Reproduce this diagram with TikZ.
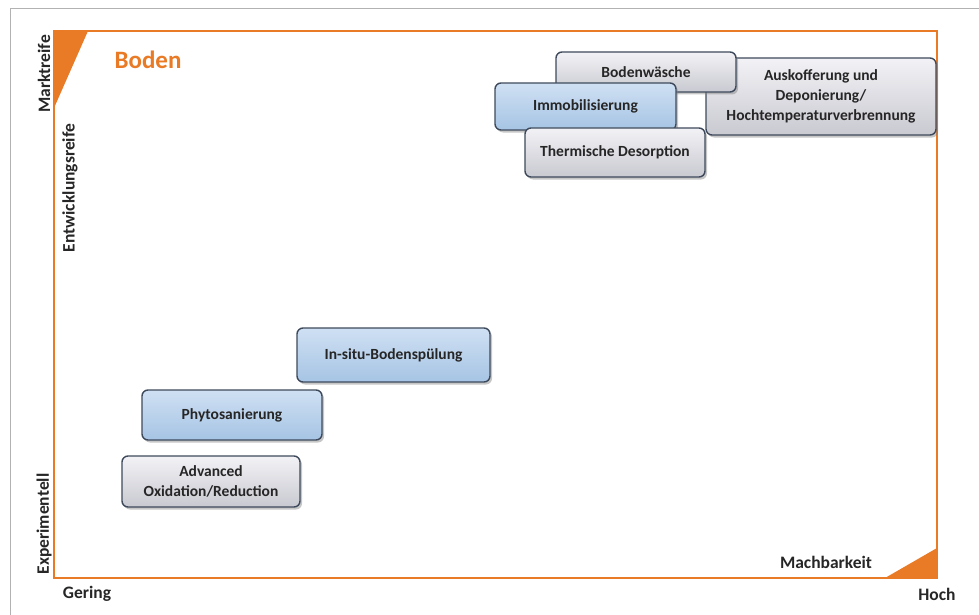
\documentclass[tikz,border=0pt]{standalone}
\usepackage{fontspec}
\setmainfont{Carlito}
\usetikzlibrary{shadows}

\definecolor{frameorange}{HTML}{E97A26}
\definecolor{boxedge}{HTML}{3E4A5C}
\definecolor{textdark}{HTML}{262626}
\definecolor{graytop}{HTML}{F2F2F6}
\definecolor{graybottom}{HTML}{C9C9D1}
\definecolor{bluetop}{HTML}{CFE0F3}
\definecolor{bluebottom}{HTML}{A6C4E4}

\tikzset{
    method/.style={draw=boxedge, line width=1.4pt, rounded corners=6pt,
        align=center, text=textdark, inner sep=2pt,
        font=\bfseries\fontsize{15.5}{20}\selectfont,
        drop shadow={shadow xshift=2pt, shadow yshift=-2.5pt, opacity=0.45}},
    graymethod/.style={method, top color=graytop, bottom color=graybottom},
    bluemethod/.style={method, top color=bluetop, bottom color=bluebottom},
    axislabel/.style={font=\bfseries\fontsize{17.5}{20}\selectfont, text=textdark},
}

\begin{document}
\begin{tikzpicture}[x=1pt, y=-1pt]
    \useasboundingbox (0,0) rectangle (979,615);
    % outer frame
    \draw[gray!60, line width=1pt] (10,615) -- (10,9) -- (979,9);
    % chart area
    \draw[frameorange, line width=2pt] (54,31) rectangle (937,578);
    \fill[frameorange] (54,31) -- (88,31) -- (54,108) -- cycle;
    \fill[frameorange] (885,578) -- (937,578) -- (937,548) -- cycle;
    \node[font=\bfseries\fontsize{25}{28}\selectfont, text=frameorange] (title) at (148,60) {Boden};

    % axes
    \node[axislabel, rotate=90] (marktreife) at (44,74) {Marktreife};
    \node[axislabel, rotate=90] (entwicklung) at (70,188) {Entwicklungsreife};
    \node[axislabel, rotate=90] (experimentell) at (44,524) {Experimentell};
    \node[axislabel] (gering) at (87,594) {Gering};
    \node[axislabel] (hoch) at (937,594) {Hoch};
    \node[axislabel] (machbarkeit) at (826,562) {Machbarkeit};

    % methods
    \node[graymethod, minimum width=230pt, minimum height=77pt] (auskofferung) at (821,96.5)
        {Auskofferung und\\Deponierung/\\Hochtemperaturverbrennung};
    \node[graymethod, minimum width=180pt, minimum height=40pt] (bodenwaesche) at (646,72) {Bodenwäsche};
    \node[bluemethod, minimum width=181pt, minimum height=47pt] (immobil) at (585.5,106.5) {Immobilisierung};
    \node[graymethod, minimum width=180pt, minimum height=49pt] (thermisch) at (615,152.5) {Thermische Desorption};
    \node[bluemethod, minimum width=193pt, minimum height=54pt] (insitu) at (393.5,355) {In-situ-Bodenspülung};
    \node[bluemethod, minimum width=180pt, minimum height=50pt] (phyto) at (232,415) {Phytosanierung};
    \node[graymethod, minimum width=178pt, minimum height=51pt] (oxidation) at (211,481.5)
        {Advanced\\Oxidation/Reduction};
\end{tikzpicture}
\end{document}
